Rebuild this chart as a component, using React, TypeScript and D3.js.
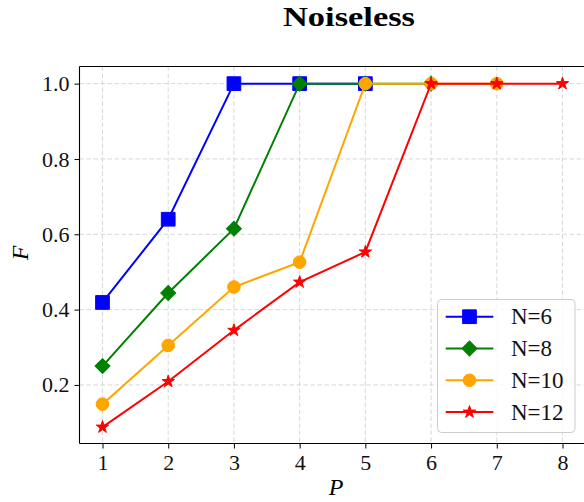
import * as d3 from 'd3';
import React, { useEffect, useRef } from 'react';

// data
const pValues = [1, 2, 3, 4, 5, 6, 7, 8];
const seriesNames = ['N=6', 'N=8', 'N=10', 'N=12'];
const seriesColors = ['blue', 'green', 'orange', 'red'];
const seriesMarkers = ['square', 'diamond', 'circle', 'star'];
const fN6 = [0.419, 0.64, 1.0, 1.0, 1.0];
const fN8 = [0.25, 0.444, 0.615, 1.0, 1.0, 1.0];
const fN10 = [0.149, 0.305, 0.46, 0.526, 1.0, 1.0, 1.0];
const fN12 = [0.088, 0.209, 0.345, 0.473, 0.553, 1.0, 1.0, 1.0];
const yTicks = [0.2, 0.4, 0.6, 0.8, 1.0];

const allSeries = [fN6, fN8, fN10, fN12];

const W = 584;
const H = 502;
const FONT = '"Liberation Serif", "DejaVu Serif", serif';

function markerPath(kind: string) {
  if (kind === 'square') return d3.symbol(d3.symbolSquare, 188)();
  if (kind === 'diamond') return d3.symbol(d3.symbolSquare, 112)();
  if (kind === 'circle') return d3.symbol(d3.symbolCircle, 125)();
  return d3.symbol(d3.symbolStar, 48)();
}

function App() {
  const myRef = useRef<SVGSVGElement>(null);

  useEffect(() => {
    const svg = d3.select(myRef.current);
    svg.selectAll('*').remove();

    const left = 79.5;
    const top = 66.5;
    const bottom = 443.5;

    // x domain with matplotlib style 5% margins
    const x = d3.scaleLinear().domain([0.65, 8.35]).range([left, 585.5]);
    const y = d3.scaleLinear().domain([0.0445, 1.0455]).range([bottom, top]);

    // grid
    const grid = svg.append('g');
    grid.selectAll('.vg')
      .data(pValues)
      .join('line')
      .attr('x1', d => x(d)).attr('x2', d => x(d))
      .attr('y1', top).attr('y2', bottom)
      .attr('stroke', '#d4d4d4').attr('stroke-width', 0.9)
      .attr('stroke-dasharray', '4.5,2.5');
    grid.selectAll('.hg')
      .data(yTicks)
      .join('line')
      .attr('x1', left).attr('x2', W)
      .attr('y1', d => y(d)).attr('y2', d => y(d))
      .attr('stroke', '#d4d4d4').attr('stroke-width', 0.9)
      .attr('stroke-dasharray', '4.5,2.5');

    // series
    const line = d3.line<number>()
      .x((d, i) => x(pValues[i]))
      .y(d => y(d));

    allSeries.forEach((vals, s) => {
      const g = svg.append('g');
      g.append('path')
        .attr('d', line(vals))
        .attr('fill', 'none')
        .attr('stroke', seriesColors[s])
        .attr('stroke-width', 2);
      g.selectAll('path.m')
        .data(vals)
        .join('path')
        .attr('class', 'm')
        .attr('d', markerPath(seriesMarkers[s]))
        .attr('transform', (d, i) =>
          `translate(${x(pValues[i])},${y(d)})` + (seriesMarkers[s] === 'diamond' ? ' rotate(45)' : ''))
        .attr('fill', seriesColors[s])
        .attr('stroke', seriesColors[s])
        .attr('stroke-width', 1);
    });

    // axes
    const xAxis = d3.axisBottom(x).tickValues(pValues).tickSize(5).tickPadding(6).tickFormat(d3.format('d'));
    svg.append('g')
      .attr('transform', `translate(0,${bottom})`)
      .call(xAxis)
      .call(g => g.select('.domain').attr('d', `M${left},0H${W + 5}`).attr('stroke-width', 1.1))
      .call(g => g.selectAll('text').attr('font-size', 22).attr('font-family', FONT).attr('fill', '#111'));

    const yAxis = d3.axisLeft(y).tickValues(yTicks).tickSize(5).tickPadding(5).tickFormat(d3.format('.1f'));
    svg.append('g')
      .attr('transform', `translate(${left},0)`)
      .call(yAxis)
      .call(g => g.select('.domain').attr('d', `M0,${bottom}V${top}`).attr('stroke-width', 1.1))
      .call(g => g.selectAll('text').attr('font-size', 22).attr('font-family', FONT).attr('fill', '#111'));

    // top spine
    svg.append('line')
      .attr('x1', left).attr('x2', W)
      .attr('y1', top).attr('y2', top)
      .attr('stroke', '#000').attr('stroke-width', 1.1);

    // labels
    svg.append('text')
      .attr('x', 349).attr('y', 26)
      .attr('text-anchor', 'middle')
      .attr('font-family', FONT).attr('font-weight', 'bold').attr('font-size', 27)
      .attr('textLength', 132).attr('lengthAdjust', 'spacingAndGlyphs')
      .text('Noiseless');
    svg.append('text')
      .attr('x', 336).attr('y', 495)
      .attr('text-anchor', 'middle')
      .attr('font-family', FONT).attr('font-style', 'italic').attr('font-size', 24)
      .text('P');
    svg.append('text')
      .attr('transform', 'translate(28,253) rotate(-90)')
      .attr('text-anchor', 'middle')
      .attr('font-family', FONT).attr('font-style', 'italic').attr('font-size', 24)
      .text('F');

    // legend
    const leg = svg.append('g');
    leg.append('rect')
      .attr('x', 437.5).attr('y', 299.5)
      .attr('width', 137.5).attr('height', 133)
      .attr('rx', 4)
      .attr('fill', 'white').attr('fill-opacity', 0.8)
      .attr('stroke', '#cccccc').attr('stroke-width', 1);
    seriesNames.forEach((name, s) => {
      const cy = 316.7 + s * 31.8;
      leg.append('line')
        .attr('x1', 445.7).attr('x2', 493.3)
        .attr('y1', cy).attr('y2', cy)
        .attr('stroke', seriesColors[s]).attr('stroke-width', 2);
      leg.append('path')
        .attr('d', markerPath(seriesMarkers[s]))
        .attr('transform', `translate(469.5,${cy})` + (seriesMarkers[s] === 'diamond' ? ' rotate(45)' : ''))
        .attr('fill', seriesColors[s]).attr('stroke', seriesColors[s]);
      leg.append('text')
        .attr('x', 511).attr('y', cy + 7.5)
        .attr('font-family', FONT).attr('font-size', 23)
        .attr('fill', '#111')
        .text(name);
    });
  }, []);

  return (
    <svg ref={myRef} width={W} height={H}
      style={{ position: 'absolute', left: 0, top: 0, background: 'white' }} />
  );
}

export default App;
